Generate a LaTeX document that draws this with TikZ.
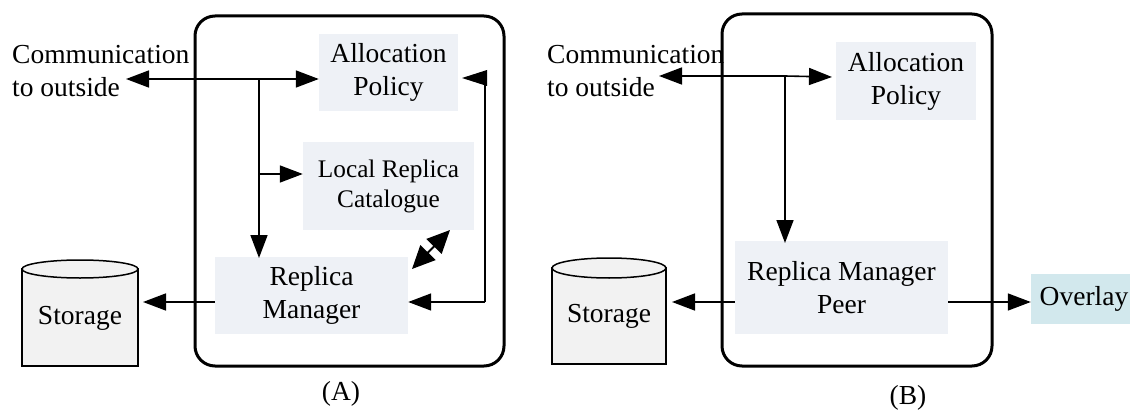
\documentclass[tikz,border=0pt]{standalone}
\usepackage{fontspec}
\setmainfont{Liberation Serif}
\usetikzlibrary{arrows.meta}
\definecolor{boxfill}{HTML}{EEF1F6}
\definecolor{overlayfill}{HTML}{D2E8ED}
\definecolor{storefill}{HTML}{F2F2F2}
\tikzset{
  x=1pt,y=-1pt,
  lab/.style={inner sep=0pt,align=center,font=\fontsize{27.5}{33}\selectfont},
  frame/.style={draw=black,line width=3pt,rounded corners=20pt,fill=white},
  block/.style={fill=boxfill,inner sep=0pt,align=center,font=\fontsize{27.5}{33}\selectfont},
  smallblock/.style={block,font=\fontsize{25.3}{30}\selectfont},
  conn/.style={draw=black,line width=1.6pt,-{Triangle[length=23pt,width=17pt]}},
  conntwo/.style={draw=black,line width=1.6pt,{Triangle[length=23pt,width=17pt]}-{Triangle[length=23pt,width=17pt]}},
  conndiag/.style={draw=black,line width=2pt,{Triangle[length=23pt,width=21pt]}-{Triangle[length=23pt,width=21pt]}},
  seg/.style={draw=black,line width=1.6pt},
  drum/.style={draw=black,line width=1.5pt,fill=storefill}
}
\newcommand{\boxat}[7][block]{\node[#1,minimum width=#4-#2,minimum height=#5-#3] (#6) at ({(#2+#4)/2},{(#3+#5)/2}) {#7};}
\begin{document}
\begin{tikzpicture}
\useasboundingbox (0,0) rectangle (1130,412);
% ---------- A
\node[frame,minimum width=309pt,minimum height=350pt,inner sep=0pt] (frameA) at (349.5,191) {};
\boxat{319}{34}{458}{111}{allocA}{Allocation\\Policy}
\boxat[smallblock]{303}{142}{474}{230}{localA}{Local Replica\\Catalogue}
\boxat{215}{257}{408}{334}{rmA}{Replica\\Manager}
\path[drum] (22,269) -- (22,366) -- (138,366) -- (138,269) -- cycle;
\path[drum] (80,269) ellipse [x radius=58,y radius=9];
\node[lab] (storA) at (80,318) {Storage};
\node[lab,anchor=west,align=left] (commA) at (12,71) {Communication\\to outside};
\node[lab] (capA) at (341,394) {(A)};
\coordinate (outA) at (126,79);
\coordinate (jA) at (259,79);
\coordinate (jA2) at (259,174);
\coordinate (rmtopA) at (259,258);
\coordinate (backA) at (485,302);
\coordinate (backtopA) at (485,85);
\coordinate (tipA) at (462,78);
\draw[conntwo] (outA) -- (allocA.west |- outA);
\draw[conn] (jA) -- (rmtopA);
\draw[conn] (jA2) -- (localA.west |- jA2);
\draw[conn] (rmA.west |- 0,302) -- (143,302);
\draw[conndiag] (450,230) -- (412,269);
\draw[conn] (backA) -- (rmA.east |- backA);
\draw[seg] (backA) -- (backtopA);
\path[fill=black] (tipA) -- (487,70) -- (487,86) -- cycle;
% ---------- B
\node[frame,minimum width=270pt,minimum height=352pt,inner sep=0pt] (frameB) at (857,190) {};
\boxat{836}{42}{976}{120}{allocB}{Allocation\\Policy}
\boxat{735}{241}{948}{334}{rmB}{Replica Manager\\Peer}
\boxat[block,fill=overlayfill]{1031}{274}{1130}{324}{overlay}{\hspace*{7pt}Overlay}
\path[drum] (552,268) -- (552,364) -- (666,364) -- (666,268) -- cycle;
\path[drum] (609,268) ellipse [x radius=57,y radius=10];
\node[lab] (storB) at (609,316) {Storage};
\node[lab,anchor=west,align=left] (commB) at (547,71) {Communication\\to outside};
\node[lab] (capB) at (908,398) {(B)};
\coordinate (outB) at (659,76);
\coordinate (jB) at (785,76);
\coordinate (tipB) at (832,77);
\draw[conn] (jB) -- (outB);
\draw[conn] (jB) -- (785,243);
\draw[conn] (jB) -- (tipB);
\draw[conn] (rmB.west |- 0,302) -- (672,302);
\draw[conn] (rmB.east |- 0,302) -- (overlay.west |- 0,302);
\end{tikzpicture}
\end{document}
